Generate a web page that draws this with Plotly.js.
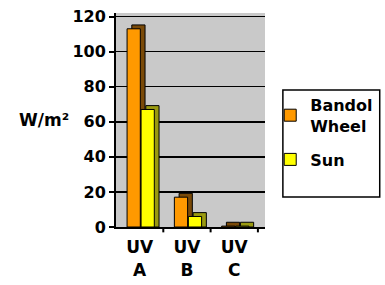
<!DOCTYPE html>
<html><head><meta charset="utf-8">
<script src="https://cdn.plot.ly/plotly-3.0.1.min.js"></script>
<style>html,body{margin:0;padding:0;background:#fff;}#c{width:385px;height:285px;}</style>
</head><body><div id="c"></div>
<script>
const categories = ['UV A', 'UV B', 'UV C'];
const tickLabels = ['UV<br>A', 'UV<br>B', 'UV<br>C'];
const bandolWheel = [113, 17, 0.5];
const sun = [67, 6, 0.5];
const seriesNames = ['Bandol<br>Wheel', 'Sun'];

const F = 'DejaVu Sans, Arial, sans-serif';
const W = 0.28, DX = 0.1, DY = 2.2;
const xs = [0, 1, 2];
function bar(y, name, color, off, show, grp) {
  return {
    type: 'bar', x: xs, y: y, name: name, offset: off, width: W, legendgroup: grp,
    marker: {color: color, line: {color: '#000', width: 1}},
    showlegend: show, hoverinfo: 'skip'
  };
}
const data = [
  bar(bandolWheel.map(v => v + DY), '', '#7a4a08', -0.266 + DX, false, 'a'),
  bar(bandolWheel, seriesNames[0], '#FF9900', -0.266, true, 'a'),
  bar(sun.map(v => v + DY), '', '#9a9a10', 0.03 + DX, false, 'b'),
  bar(sun, seriesNames[1], '#FFFF00', 0.03, true, 'b')
];
const layout = {
  width: 385, height: 285,
  margin: {l: 116, r: 120, t: 13, b: 58, autoexpand: false},
  paper_bgcolor: '#fff', plot_bgcolor: '#c9c9c9',
  barmode: 'overlay',
  font: {family: F, color: '#000'},
  xaxis: {
    type: 'linear', range: [-0.5, 2.65], tickvals: xs, ticktext: tickLabels,
    tickfont: {family: F, size: 17, color: '#000', weight: 'bold'},
    showline: true, linecolor: '#000', linewidth: 2, showgrid: false,
    ticks: '', zeroline: false, fixedrange: true, ticklabelstandoff: 4
  },
  yaxis: {
    range: [0, 122], tickvals: [0, 20, 40, 60, 80, 100, 120],
    tickfont: {family: F, size: 16, color: '#000', weight: 'bold'},
    showline: true, linecolor: '#000', linewidth: 2,
    ticks: 'outside', ticklen: 5, tickwidth: 2, tickcolor: '#000',
    showgrid: true, gridcolor: '#000', gridwidth: 1.6, zeroline: false, fixedrange: true
  },
  showlegend: true,
  legend: {
    x: 1.035, y: 0.65, xanchor: 'left', yanchor: 'top',
    bgcolor: 'rgba(0,0,0,0)', borderwidth: 0, traceorder: 'grouped',
    font: {family: F, size: 16, color: '#000', weight: 'bold'},
    tracegroupgap: 10, itemwidth: 30
  },
  shapes: [
    {type: 'rect', xref: 'paper', yref: 'paper', x0: 1.12, x1: 1.77, y0: 0.14, y1: 0.64,
     line: {color: '#000', width: 1.5}},
    {type: 'line', xref: 'x', yref: 'paper', x0: 0.5, x1: 0.5, y0: 0, y1: -0.025, line: {color: '#000', width: 2}},
    {type: 'line', xref: 'x', yref: 'paper', x0: 1.5, x1: 1.5, y0: 0, y1: -0.025, line: {color: '#000', width: 2}},
    {type: 'line', xref: 'x', yref: 'paper', x0: 2.5, x1: 2.5, y0: 0, y1: -0.025, line: {color: '#000', width: 2}}
  ],
  annotations: [
    {text: 'W/m²', xref: 'paper', yref: 'paper', x: -0.48, y: 0.5, xanchor: 'center', yanchor: 'middle',
     showarrow: false, font: {family: F, size: 17, color: '#000', weight: 'bold'}}
  ]
};
Plotly.newPlot('c', data, layout, {staticPlot: true, displayModeBar: false});
</script></body></html>
